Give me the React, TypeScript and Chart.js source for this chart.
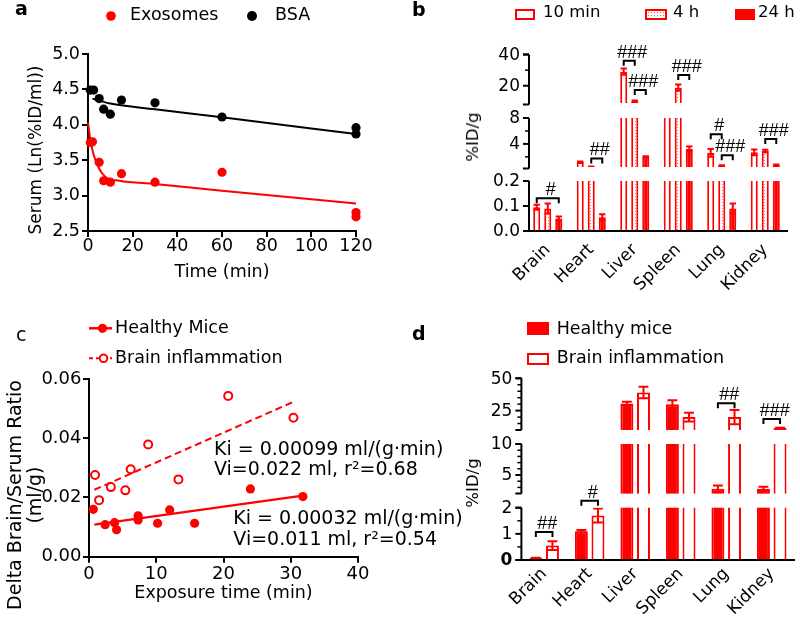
import React, { useEffect, useRef } from 'react';
import { Chart, registerables, LinearScale } from 'chart.js';

Chart.register(...registerables);

const FONT = '"DejaVu Sans", Verdana, sans-serif';
const HASH_FONT = '"Liberation Sans", Arial, sans-serif';
const RED = '#ff0000';
const BLACK = '#000000';

// ================= Panel a: serum clearance =================
const aExoTime = [1, 2, 5, 7, 10, 15, 30, 60, 120, 120];
const aExoValue = [3.75, 3.76, 3.47, 3.21, 3.19, 3.31, 3.19, 3.33, 2.76, 2.7];
const aBsaTime = [1, 2.5, 5, 7, 10, 15, 30, 60, 120, 120];
const aBsaValue = [4.49, 4.49, 4.37, 4.22, 4.15, 4.35, 4.31, 4.11, 3.96, 3.87];
const aExoFitTime = [0, 1, 2.5, 5, 8, 14, 30, 60, 120];
const aExoFitValue = [4.03, 3.8, 3.58, 3.38, 3.26, 3.21, 3.165, 3.07, 2.89];
const aBsaFitTime = [2, 10, 30, 60, 120];
const aBsaFitValue = [4.37, 4.3, 4.22, 4.105, 3.87];
const aXTicks = [0, 20, 40, 60, 80, 100, 120];
const aYTicks = [2.5, 3.0, 3.5, 4.0, 4.5, 5.0];

// ================= Panel b: biodistribution over time =================
const organs = ['Brain', 'Heart', 'Liver', 'Spleen', 'Lung', 'Kidney'];
const b10min = [0.095, 1.2, 29, 8.05, 2.6, 2.7];
const b10minErr = [0.01, 0.1, 2, 0, 0.6, 0.45];
const b4h = [0.09, 0.45, 10, 18.8, 0.65, 2.9];
const b4hErr = [0.02, 0.05, 0.6, 2, 0.05, 0.2];
const b24h = [0.05, 0.055, 2.0, 3.2, 0.09, 0.75];
const b24hErr = [0.008, 0.012, 0.1, 0.4, 0.02, 0.06];
const bSegments = [
  { min: 0, max: 0.2 },
  { min: 0.2, max: 8 },
  { min: 8, max: 40 },
];
const bTickValues = [0, 0.1, 0.2, 4, 8, 20, 40];
const bTickLabels = ['0.0', '0.1', '0.2', '4', '8', '20', '40'];
const bMinorTicks = [2, 6, 30];
const bBrackets = [
  { organ: 0, from: 0, to: 2, y: 0.131, label: '#' },
  { organ: 1, from: 1, to: 2, y: 1.76, label: '##' },
  { organ: 2, from: 0, to: 1, y: 36, label: '###' },
  { organ: 2, from: 1, to: 2, y: 17.3, label: '###' },
  { organ: 3, from: 1, to: 2, y: 26.9, label: '###' },
  { organ: 4, from: 0, to: 1, y: 5.5, label: '#' },
  { organ: 4, from: 1, to: 2, y: 2.25, label: '###' },
  { organ: 5, from: 1, to: 2, y: 4.75, label: '###' },
];

// ================= Panel c: brain influx =================
const cHealthyTime = [0.64, 2.4, 3.8, 4.1, 7.3, 7.3, 10.2, 12.0, 15.7, 24.0, 31.8];
const cHealthyRatio = [0.016, 0.0108, 0.0115, 0.0091, 0.0138, 0.0124, 0.0113, 0.0158, 0.0113, 0.0229, 0.0203];
const cInflamTime = [0.9, 1.5, 3.25, 5.4, 6.2, 8.8, 13.3, 20.7, 30.4];
const cInflamRatio = [0.0276, 0.0191, 0.0235, 0.0224, 0.0295, 0.0379, 0.0261, 0.0543, 0.0469];
const cHealthyFitTime = [0.8, 31.8];
const cHealthyFitRatio = [0.0108, 0.0206];
const cInflamFitTime = [0.8, 30.4];
const cInflamFitRatio = [0.0226, 0.0523];
const cXTicks = [0, 10, 20, 30, 40];
const cYTicks = [0, 0.02, 0.04, 0.06];

// ================= Panel d: healthy vs inflamed =================
const dHealthy = [0.08, 1.1, 30.5, 30, 2.8, 2.8];
const dHealthyErr = [0.01, 0.05, 1.3, 3, 0.5, 0.3];
const dInflam = [0.55, 1.7, 39, 20, 20, 11.5];
const dInflamErr = [0.17, 0.27, 4.5, 3.4, 5.5, 0.3];
const dSegments = [
  { min: 0, max: 2 },
  { min: 2, max: 10 },
  { min: 10, max: 50 },
];
const dTickValues = [0, 1, 2, 5, 10, 25, 50];
const dTickLabels = ['0', '1', '2', '5', '10', '25', '50'];
const dMinorTicks = [0.5, 1.5, 3, 4, 6, 7, 8, 9, 15, 20, 30, 35, 40, 45];
const dBrackets = [
  { organ: 0, from: 0, to: 1, y: 1.07, label: '##' },
  { organ: 1, from: 0, to: 1, y: 2.0, dy: -7, label: '#' },
  { organ: 4, from: 0, to: 1, y: 30.6, label: '##' },
  { organ: 5, from: 0, to: 1, y: 18.5, label: '###' },
];

// ---- layout of the broken axes (fractions of plot height, from bottom) ----
const bSegFracs: [number, number][] = [[0, 0.2833], [0.3541, 0.6402], [0.7167, 1]];
const dSegFracs: [number, number][] = [[0, 0.2878], [0.3654, 0.6384], [0.7155, 1]];

function makeBrokenScale(id: string, segs: { min: number; max: number }[], fracs: [number, number][]) {
  class BrokenScale extends LinearScale {
    static id = id;
    static defaults = (LinearScale as any).defaults;
    getPixelForValue(value: number) {
      const { top, bottom } = (this as any).chart.chartArea;
      const h = bottom - top;
      let k = segs.findIndex((s) => value <= s.max);
      if (k < 0) k = segs.length - 1;
      const s = segs[k];
      const f = fracs[k];
      const r = (value - s.min) / (s.max - s.min);
      return bottom - (f[0] + r * (f[1] - f[0])) * h;
    }
    getValueForPixel(pixel: number) {
      const { top, bottom } = (this as any).chart.chartArea;
      const fr = (bottom - pixel) / (bottom - top);
      for (let k = 0; k < segs.length; k++) {
        const f = fracs[k];
        if (fr <= f[1] || k === segs.length - 1) {
          const r = Math.min(Math.max((fr - f[0]) / (f[1] - f[0]), 0), 1);
          return segs[k].min + r * (segs[k].max - segs[k].min);
        }
      }
      return 0;
    }
  }
  return BrokenScale;
}

Chart.register(makeBrokenScale('brokenB', bSegments, bSegFracs) as any, makeBrokenScale('brokenD', dSegments, dSegFracs) as any);

const pts = (xs: number[], ys: number[]) => xs.map((x, i) => ({ x, y: ys[i] }));

function linAxis(ticks: number[], size: number, digits: number, pad: number, fit: (s: any) => void) {
  return {
    type: 'linear',
    min: ticks[0],
    max: ticks[ticks.length - 1],
    afterBuildTicks: (s: any) => {
      s.ticks = ticks.map((v) => ({ value: v }));
    },
    afterFit: fit,
    grid: { display: true, drawOnChartArea: false, drawTicks: true, tickLength: 6, color: BLACK, lineWidth: 2 },
    border: { display: true, color: BLACK, width: 2 },
    ticks: {
      color: BLACK,
      padding: pad,
      font: { family: FONT, size, lineHeight: 1 },
      callback: (v: any) => Number(v).toFixed(digits),
    },
  };
}

function buildA() {
  return {
    type: 'scatter',
    data: {
      datasets: [
        { label: 'Exosomes', data: pts(aExoTime, aExoValue), backgroundColor: RED, borderColor: RED, pointRadius: 4.6, pointBorderWidth: 0, clip: false },
        { label: 'BSA', data: pts(aBsaTime, aBsaValue), backgroundColor: BLACK, borderColor: BLACK, pointRadius: 4.6, pointBorderWidth: 0, clip: false },
        { label: 'Exosomes fit', data: pts(aExoFitTime, aExoFitValue), showLine: true, borderColor: RED, borderWidth: 2, pointRadius: 0, cubicInterpolationMode: 'monotone', clip: false },
        { label: 'BSA fit', data: pts(aBsaFitTime, aBsaFitValue), showLine: true, borderColor: BLACK, borderWidth: 2, pointRadius: 0, cubicInterpolationMode: 'monotone', clip: false },
      ],
    },
    options: {
      responsive: false,
      animation: false,
      devicePixelRatio: 1,
      layout: { padding: { left: 0, top: 54, right: 44, bottom: 0 } },
      plugins: { legend: { display: false }, tooltip: { enabled: false } },
      scales: {
        x: {
          ...linAxis(aXTicks, 17.5, 0, 1, (s: any) => { s.height = 69; }),
          title: { display: true, text: 'Time (min)', color: BLACK, font: { family: FONT, size: 17.5 }, padding: { top: 0, bottom: 17 } },
        },
        y: linAxis(aYTicks, 17.5, 1, 2, (s: any) => { s.width = 88; }),
      },
    },
  };
}

function buildC() {
  return {
    type: 'scatter',
    data: {
      datasets: [
        { label: 'Healthy Mice', data: pts(cHealthyTime, cHealthyRatio), backgroundColor: RED, borderColor: RED, pointRadius: 4.6, pointBorderWidth: 0, clip: false },
        { label: 'Brain inflammation', data: pts(cInflamTime, cInflamRatio), backgroundColor: '#ffffff', borderColor: RED, pointRadius: 4, pointBorderWidth: 2, clip: false },
        { label: 'Healthy fit', data: pts(cHealthyFitTime, cHealthyFitRatio), showLine: true, borderColor: RED, borderWidth: 2.2, pointRadius: 0, clip: false },
        { label: 'Inflammation fit', data: pts(cInflamFitTime, cInflamFitRatio), showLine: true, borderColor: RED, borderWidth: 2, borderDash: [7, 4], pointRadius: 0, clip: false },
      ],
    },
    options: {
      responsive: false,
      animation: false,
      devicePixelRatio: 1,
      layout: { padding: { left: 0, top: 79, right: 42, bottom: 0 } },
      plugins: { legend: { display: false }, tooltip: { enabled: false } },
      scales: {
        x: {
          ...linAxis(cXTicks, 18, 0, 3, (s: any) => { s.height = 64.3; }),
          title: { display: true, text: 'Exposure time (min)', color: BLACK, font: { family: FONT, size: 17.5 }, padding: { top: 0, bottom: 17.5 } },
        },
        y: linAxis(cYTicks, 18, 2, 1.5, (s: any) => { s.width = 89; }),
      },
    },
  };
}

function makeDotPattern(ctx: CanvasRenderingContext2D) {
  const c = document.createElement('canvas');
  c.width = 3;
  c.height = 3;
  const g = c.getContext('2d')!;
  g.fillStyle = '#ffffff';
  g.fillRect(0, 0, 3, 3);
  g.fillStyle = 'rgba(255,0,0,0.6)';
  g.fillRect(1, 1, 1, 1);
  return ctx.createPattern(c, 'repeat');
}

function brokenPlugin(cfg: any) {
  return {
    id: 'brokenExtras',
    afterDatasetsDraw(chart: any) {
      const { ctx, chartArea: area } = chart;
      const ys = chart.scales.y;
      const h = area.bottom - area.top;
      ctx.save();
      ctx.strokeStyle = RED;
      ctx.lineWidth = 2;
      cfg.values.forEach((vals: number[], di: number) => {
        const meta = chart.getDatasetMeta(di);
        vals.forEach((v, i) => {
          const e = cfg.errors[di][i];
          if (!e) return;
          const bar = meta.data[i];
          const half = bar.width * cfg.capFrac;
          const yT = ys.getPixelForValue(v + e);
          const yB = ys.getPixelForValue(Math.max(v - e, 0));
          ctx.beginPath();
          ctx.moveTo(bar.x, yT);
          ctx.lineTo(bar.x, yB);
          ctx.moveTo(bar.x - half, yT);
          ctx.lineTo(bar.x + half, yT);
          ctx.moveTo(bar.x - half, yB);
          ctx.lineTo(bar.x + half, yB);
          ctx.stroke();
        });
      });
      ctx.fillStyle = '#ffffff';
      const gp = cfg.gapPad || 0;
      for (let k = 0; k < cfg.fracs.length - 1; k++) {
        const yLow = area.bottom - cfg.fracs[k][1] * h;
        const yHigh = area.bottom - cfg.fracs[k + 1][0] * h;
        ctx.fillRect(area.left - 40, yHigh - gp, area.right - area.left + 50, yLow - yHigh + gp);
      }
      ctx.restore();
    },
    afterDraw(chart: any) {
      const { ctx, chartArea: area } = chart;
      const ys = chart.scales.y;
      const h = area.bottom - area.top;
      const ax = area.left + cfg.axisShift;
      ctx.save();
      ctx.strokeStyle = BLACK;
      ctx.fillStyle = BLACK;
      ctx.lineWidth = 2;
      cfg.fracs.forEach(([lo, hi]: [number, number], k: number) => {
        const yLo = area.bottom - lo * h;
        const yHi = area.bottom - hi * h;
        ctx.beginPath();
        ctx.moveTo(ax, yLo + (k === 0 ? 1 : 0));
        ctx.lineTo(ax, yHi);
        ctx.moveTo(ax - 6, yLo);
        ctx.lineTo(ax, yLo);
        ctx.moveTo(ax - 6, yHi);
        ctx.lineTo(ax, yHi);
        ctx.stroke();
      });
      ctx.lineWidth = 1.5;
      cfg.minor.forEach((v: number) => {
        const p = ys.getPixelForValue(v);
        ctx.beginPath();
        ctx.moveTo(ax - 4, p);
        ctx.lineTo(ax, p);
        ctx.stroke();
      });
      ctx.lineWidth = 2;
      ctx.textAlign = 'right';
      ctx.textBaseline = 'middle';
      cfg.tickValues.forEach((v: number, i: number) => {
        const p = ys.getPixelForValue(v);
        ctx.beginPath();
        ctx.moveTo(ax - 6, p);
        ctx.lineTo(ax, p);
        ctx.stroke();
        const lab = cfg.tickLabels[i];
        const bold = cfg.boldLabels && cfg.boldLabels.includes(lab);
        ctx.font = `${bold ? 'bold ' : ''}${cfg.tickSize}px ${FONT}`;
        ctx.fillText(lab, ax - 9, p + 1);
      });
      ctx.font = `18px ${HASH_FONT}`;
      ctx.textAlign = 'center';
      ctx.textBaseline = 'alphabetic';
      cfg.brackets.forEach((b: any) => {
        const x1 = chart.getDatasetMeta(b.from).data[b.organ].x;
        const x2 = chart.getDatasetMeta(b.to).data[b.organ].x;
        const yp = ys.getPixelForValue(b.y) + (b.dy || 0);
        ctx.beginPath();
        ctx.moveTo(x1, yp + 5);
        ctx.lineTo(x1, yp);
        ctx.lineTo(x2, yp);
        ctx.lineTo(x2, yp + 5);
        ctx.stroke();
        ctx.fillText(b.label, (x1 + x2) / 2 + 3, yp - 3);
      });
      ctx.restore();
    },
  };
}

function barX(height: number, pad: number) {
  return {
    type: 'category',
    offset: true,
    grid: { display: false, drawTicks: false },
    border: { display: true, color: BLACK, width: 2, z: 1 },
    ticks: { color: BLACK, font: { family: FONT, size: 17 }, minRotation: 45, maxRotation: 45, autoSkip: false, padding: pad },
    afterFit: (s: any) => { s.height = height; },
  };
}

function buildB(canvas: HTMLCanvasElement) {
  const dots = makeDotPattern(canvas.getContext('2d')!);
  const common = { categoryPercentage: 0.76, barPercentage: 0.64, borderColor: RED, borderWidth: 2, borderSkipped: 'start', inflateAmount: 0 };
  return {
    type: 'bar',
    data: {
      labels: organs,
      datasets: [
        { ...common, label: '10 min', data: b10min, backgroundColor: '#ffffff' },
        { ...common, label: '4 h', data: b4h, backgroundColor: dots },
        { ...common, label: '24 h', data: b24h, backgroundColor: RED },
      ],
    },
    options: {
      responsive: false,
      animation: false,
      devicePixelRatio: 1,
      layout: { padding: { left: 126, top: 54.5, right: 13, bottom: 0 } },
      plugins: { legend: { display: false }, tooltip: { enabled: false } },
      scales: {
        x: barX(69, 9),
        y: { type: 'brokenB', min: 0, max: 40, display: false },
      },
    },
    plugins: [
      brokenPlugin({
        values: [b10min, b4h, b24h],
        errors: [b10minErr, b4hErr, b24hErr],
        fracs: bSegFracs,
        gapPad: 1.5,
        axisShift: 3,
        tickValues: bTickValues,
        tickLabels: bTickLabels,
        minor: bMinorTicks,
        tickSize: 17,
        brackets: bBrackets,
        capFrac: 0.45,
      }),
    ],
  };
}

function buildD() {
  const common = { categoryPercentage: 0.73, barPercentage: 0.78, borderColor: RED, borderWidth: 2, borderSkipped: 'start' };
  return {
    type: 'bar',
    data: {
      labels: organs,
      datasets: [
        { ...common, label: 'Healthy mice', data: dHealthy, backgroundColor: RED },
        { ...common, label: 'Brain inflammation', data: dInflam, backgroundColor: '#ffffff' },
      ],
    },
    options: {
      responsive: false,
      animation: false,
      devicePixelRatio: 1,
      layout: { padding: { left: 121.4, top: 78.3, right: 5.5, bottom: 0 } },
      plugins: { legend: { display: false }, tooltip: { enabled: false } },
      scales: {
        x: barX(61, 4),
        y: { type: 'brokenD', min: 0, max: 50, display: false },
      },
    },
    plugins: [
      brokenPlugin({
        values: [dHealthy, dInflam],
        errors: [dHealthyErr, dInflamErr],
        fracs: dSegFracs,
        gapPad: 0,
        axisShift: 0,
        tickValues: dTickValues,
        tickLabels: dTickLabels,
        boldLabels: ['0'],
        minor: dMinorTicks,
        tickSize: 17,
        brackets: dBrackets,
        capFrac: 0.38,
      }),
    ],
  };
}

function ChartCanvas({ left, top, width, height, build }: any) {
  const ref = useRef<HTMLCanvasElement>(null);
  useEffect(() => {
    const c = ref.current!;
    const chart = new Chart(c, build(c) as any);
    return () => chart.destroy();
  }, []);
  return <canvas ref={ref} width={width} height={height} style={{ position: 'absolute', left, top, width, height }} />;
}

function Txt({ x, base, size, bold, family, children }: any) {
  return (
    <div
      style={{
        position: 'absolute',
        left: x,
        top: base - 0.846 * size,
        fontSize: size,
        lineHeight: `${size}px`,
        fontFamily: family || FONT,
        fontWeight: bold ? 700 : 400,
        whiteSpace: 'nowrap',
        color: BLACK,
      }}
    >
      {children}
    </div>
  );
}

function VTitle({ cx, cy, size, lineH, lines }: any) {
  return (
    <div
      style={{
        position: 'absolute',
        left: cx,
        top: cy,
        transform: 'translate(-50%, -50%) rotate(-90deg)',
        fontSize: size,
        lineHeight: `${lineH}px`,
        fontFamily: FONT,
        whiteSpace: 'nowrap',
        textAlign: 'center',
        color: BLACK,
      }}
    >
      {lines.map((l: string) => (
        <div key={l}>{l}</div>
      ))}
    </div>
  );
}

const boxStyle = (left: number, top: number, w: number, h: number, extra: any) => ({
  position: 'absolute' as const,
  left,
  top,
  width: w,
  height: h,
  boxSizing: 'border-box' as const,
  ...extra,
});

export default function App() {
  useEffect(() => {
    const prev = document.body.style.margin;
    document.body.style.margin = '0';
    return () => {
      document.body.style.margin = prev;
    };
  }, []);
  return (
    <div style={{ position: 'relative', width: 800, height: 621, background: '#ffffff', overflow: 'hidden' }}>
      <ChartCanvas left={0} top={0} width={400} height={300} build={buildA} />
      <ChartCanvas left={400} top={0} width={400} height={300} build={buildB} />
      <ChartCanvas left={0} top={300} width={400} height={321} build={buildC} />
      <ChartCanvas left={400} top={300} width={400} height={321} build={buildD} />

      {/* panel letters */}
      <Txt x={15} base={15} size={19} bold>a</Txt>
      <Txt x={412} base={16} size={19} bold>b</Txt>
      <Txt x={16} base={341.5} size={19}>c</Txt>
      <Txt x={412} base={340} size={19} bold>d</Txt>

      {/* panel a legend + y title */}
      <svg style={{ position: 'absolute', left: 100, top: 5 }} width={165} height={22}>
        <circle cx={11} cy={11} r={4.8} fill={RED} />
        <circle cx={152} cy={11} r={5} fill={BLACK} />
      </svg>
      <Txt x={130} base={20.7} size={17.5}>Exosomes</Txt>
      <Txt x={275} base={20.7} size={17.5}>BSA</Txt>
      <VTitle cx={35} cy={150} size={17} lineH={20} lines={['Serum (Ln(%ID/ml))']} />

      {/* panel b legend + y title */}
      <div style={boxStyle(515, 8.5, 20, 11, { border: `2px solid ${RED}`, background: '#ffffff' })} />
      <Txt x={543} base={18.3} size={16.5}>10 min</Txt>
      <div
        style={boxStyle(645, 8.5, 22, 11, {
          border: `2px solid ${RED}`,
          backgroundColor: '#ffffff',
          backgroundImage: 'radial-gradient(circle, rgba(255,0,0,0.65) 0.7px, rgba(255,255,255,0) 1px)',
          backgroundSize: '3px 3px',
        })}
      />
      <Txt x={673} base={18.3} size={16.5}>4 h</Txt>
      <div style={boxStyle(735, 8.5, 20, 11, { background: RED })} />
      <Txt x={758} base={18.3} size={16.5}>24 h</Txt>
      <VTitle cx={473.3} cy={137} size={16.5} lineH={20} lines={['%ID/g']} />

      {/* panel c legend, y title, annotations */}
      <svg style={{ position: 'absolute', left: 85, top: 318 }} width={32} height={50}>
        <line x1={4} y1={10.3} x2={27} y2={10.3} stroke={RED} strokeWidth={2.5} />
        <circle cx={17.5} cy={10.3} r={4.6} fill={RED} />
        <line x1={4} y1={40.3} x2={27} y2={40.3} stroke={RED} strokeWidth={2} strokeDasharray="4 3" />
        <circle cx={18.5} cy={40.3} r={3.8} fill="#ffffff" stroke={RED} strokeWidth={2} />
      </svg>
      <Txt x={115} base={334} size={17.5}>Healthy Mice</Txt>
      <Txt x={115} base={364} size={17.5}>Brain inflammation</Txt>
      <VTitle cx={24.2} cy={495} size={19} lineH={20} lines={['Delta Brain/Serum Ratio', '(ml/g)']} />
      <Txt x={214} base={455} size={19}>Ki = 0.00099 ml/(g·min)</Txt>
      <Txt x={214} base={475} size={19}>Vi=0.022 ml, r²=0.68</Txt>
      <Txt x={233.3} base={524} size={19}>Ki = 0.00032 ml/(g·min)</Txt>
      <Txt x={233.3} base={545} size={19}>Vi=0.011 ml, r²=0.54</Txt>

      {/* panel d legend + y title */}
      <div style={boxStyle(527, 322, 21.5, 13, { background: RED })} />
      <Txt x={556.7} base={335} size={17.5}>Healthy mice</Txt>
      <div style={boxStyle(527, 353, 21.5, 12, { border: `2px solid ${RED}`, background: '#ffffff' })} />
      <Txt x={556.7} base={364} size={17.5}>Brain inflammation</Txt>
      <VTitle cx={473.3} cy={483.3} size={16.5} lineH={20} lines={['%ID/g']} />
    </div>
  );
}
